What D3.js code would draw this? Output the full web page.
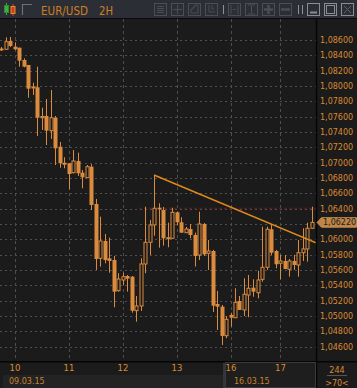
<!DOCTYPE html>
<html><head><meta charset="utf-8">
<script src="https://cdn.jsdelivr.net/npm/d3@7"></script>
<style>html,body{margin:0;padding:0;background:#1b1b1b;overflow:hidden}svg{display:block}</style>
</head><body><svg id="c" width="357" height="388"></svg>
<script>
// ---- data ----
const title = "EUR/USD", period = "2H";
const opens = [1.08476,1.08479,1.08587,1.08513,1.08500,1.08339,1.08274,1.07974,1.07983,1.07586,
1.07609,1.07417,1.07586,1.07208,1.06986,1.06992,1.06869,1.07022,1.06869,1.06804,
1.06947,1.06461,1.05752,1.05978,1.05752,1.05730,1.05330,1.05469,1.05521,1.05512,
1.05069,1.05130,1.05678,1.05961,1.06187,1.06412,1.06382,1.06013,1.06013,1.06352,
1.06222,1.06086,1.06134,1.06056,1.05795,1.06200,1.05817,1.05847,1.05156,1.05121,
1.04742,1.05013,1.04977,1.05195,1.05078,1.05273,1.05369,1.05303,1.05478,1.05635,
1.06131,1.05847,1.05687,1.05717,1.05609,1.05717,1.05665,1.05825,1.05874,1.06144];
const highs = [1.08509,1.08635,1.08639,1.08570,1.08500,1.08361,1.08274,1.08043,1.08252,1.07717,
1.07830,1.07948,1.07609,1.07269,1.07070,1.06992,1.07165,1.07130,1.06904,1.06969,
1.06979,1.06526,1.06295,1.06069,1.06021,1.05782,1.05557,1.05564,1.05534,1.05521,
1.05260,1.05752,1.06425,1.06252,1.06839,1.06470,1.06422,1.06217,1.06412,1.06360,
1.06287,1.06161,1.06200,1.06086,1.06360,1.06213,1.05991,1.05861,1.05326,1.05143,
1.04999,1.05042,1.05361,1.05260,1.05491,1.05534,1.05478,1.05590,1.06164,1.06164,
1.06196,1.05861,1.05795,1.05795,1.05743,1.05795,1.05991,1.06144,1.06217,1.06425];
const lows = [1.08457,1.08476,1.08509,1.08470,1.08252,1.08244,1.07847,1.07883,1.07348,1.07426,
1.07230,1.07309,1.06969,1.06934,1.06926,1.06652,1.06861,1.06826,1.06665,1.06800,
1.06382,1.05600,1.05643,1.05687,1.05564,1.05113,1.05317,1.05404,1.05317,1.05042,
1.04925,1.05065,1.05557,1.05795,1.06047,1.05891,1.05917,1.05896,1.06008,1.06187,
1.06086,1.06082,1.06013,1.05643,1.05730,1.05782,1.05600,1.05052,1.04817,1.04621,
1.04709,1.04860,1.04973,1.05078,1.04999,1.04983,1.05251,1.05230,1.05447,1.05600,
1.05795,1.05622,1.05478,1.05609,1.05512,1.05600,1.05512,1.05717,1.05708,1.06134];
const closes = [1.08483,1.08578,1.08522,1.08479,1.08330,1.08252,1.07965,1.07987,1.07586,1.07602,
1.07417,1.07586,1.07187,1.06992,1.06992,1.06852,1.07022,1.06861,1.06809,1.06947,
1.06448,1.05743,1.05978,1.05730,1.05717,1.05317,1.05482,1.05512,1.05486,1.05069,
1.05130,1.05678,1.05961,1.06187,1.06405,1.06391,1.06013,1.06021,1.06352,1.06222,
1.06086,1.06134,1.06056,1.05782,1.06200,1.05804,1.05847,1.05134,1.05121,1.04739,
1.04956,1.04977,1.05178,1.05078,1.05283,1.05361,1.05317,1.05469,1.05635,1.06131,
1.05825,1.05674,1.05717,1.05613,1.05717,1.05665,1.05825,1.05874,1.06144,1.06220];
const dayIndex = [3, 15, 27, 39, 51, 62];
const dayLabels = ["10", "11", "12", "13", "16", "17"];
const weekIndex = [0, 51];
const weekLabels = ["09.03.15", "16.03.15"];
const priceTicks = [1.086,1.084,1.082,1.080,1.078,1.076,1.074,1.072,1.070,1.068,1.066,1.064,1.062,1.060,1.058,1.056,1.054,1.052,1.050,1.048,1.046];
const lastPrice = 1.06220;
const alertPrice = 1.06405, alertFromIndex = 31;
const trendIdx = [34, 70], trendPrice = [1.06839, 1.05954];
const barCount = "244", visibleBars = ">70<";

// ---- styles ----
const ORANGE = "#dc8a33", CANDLE = "#da8b3e", BG = "#1b1b1b";
const svg = d3.select("#c");
const plotL = 0, plotR = 316, plotT = 19, plotB = 361;

const x = d3.scaleLinear().domain([0, 69]).range([1, 311.5]);
const y = d3.scaleLinear().domain([1.046, 1.086]).range([346.6, 40]);
const fmt = v => d3.format(".5f")(v).replace(".", ",");

svg.append("rect").attr("width", 357).attr("height", 388).attr("fill", BG);

// ---- top bar ----
const topBar = svg.append("g");
topBar.append("rect").attr("width", 357).attr("height", 18).attr("fill", "#2b2e35");
topBar.append("line").attr("x1", 0).attr("x2", 357).attr("y1", 18.5).attr("y2", 18.5).attr("stroke", "#0a0a0a");
topBar.append("line").attr("x1", 6.5).attr("x2", 6.5).attr("y1", 3).attr("y2", 15).attr("stroke", "#3fae3f");
topBar.append("rect").attr("x", 4.5).attr("y", 5.5).attr("width", 4).attr("height", 7).attr("fill", "#3fae3f").attr("stroke", "#2e8a2e");
topBar.append("line").attr("x1", 13).attr("x2", 13).attr("y1", 4).attr("y2", 16).attr("stroke", "#d2552a");
topBar.append("rect").attr("x", 11).attr("y", 6.5).attr("width", 4).attr("height", 7).attr("fill", "#d83a20").attr("stroke", "#e0902a");
topBar.append("path").attr("d", "M22.5,15V4.5H32").attr("fill", "none").attr("stroke", "#6c6f75").attr("stroke-width", 1.2);
topBar.append("text").attr("x", 41).attr("y", 15).text(title)
  .attr("fill", "#cc7e24").attr("font-family", "DejaVu Sans, sans-serif").attr("font-size", 12)
  .attr("textLength", 47).attr("lengthAdjust", "spacingAndGlyphs");
topBar.append("text").attr("x", 99).attr("y", 15).text(period)
  .attr("fill", "#cc7e24").attr("font-family", "DejaVu Sans, sans-serif").attr("font-size", 12)
  .attr("textLength", 14).attr("lengthAdjust", "spacingAndGlyphs");
const btnX = [154, 171, 188, 205, 228, 245, 262, 279];
btnX.forEach((bx, k) => {
  const g = topBar.append("g").attr("stroke", "#4b4e55").attr("fill", "none");
  g.append("rect").attr("x", bx + 0.5).attr("y", 3.5).attr("width", 12).attr("height", 12);
  if (k === 0) [6.5, 8.5, 10.5, 12.5].forEach(yy => g.append("line").attr("x1", bx + 3).attr("x2", bx + 10).attr("y1", yy).attr("y2", yy));
  if (k === 1) { g.append("line").attr("x1", bx + 6.5).attr("x2", bx + 6.5).attr("y1", 5).attr("y2", 14); g.append("line").attr("x1", bx + 2).attr("x2", bx + 11).attr("y1", 9.5).attr("y2", 9.5); }
  if (k === 2) g.append("path").attr("d", `M${bx+3},13V9H${bx+5}V7H${bx+7}V5H${bx+10}V13Z`);
  if (k === 3) g.append("path").attr("d", `M${bx+4},5V12H${bx+10}M${bx+7},5V9H${bx+9}`);
  if (k === 4) g.append("path").attr("d", `M${bx+3},5V14M${bx+10},5V14M${bx+5},9.5H${bx+8}`);
  if (k === 5) g.append("path").attr("d", `M${bx+3},5H${bx+10}M${bx+3},14H${bx+10}M${bx+6.5},6V13`);
  if (k === 6) g.append("path").attr("d", `M${bx+6.5},5V14M${bx+2},9.5H${bx+11}`).attr("stroke-width", 2.5);
  if (k === 7) g.append("path").attr("d", `M${bx+2},9.5H${bx+11}`).attr("stroke-width", 2.5);
});
[223.5, 298.5, 302.5].forEach(sx => topBar.append("line").attr("x1", sx).attr("x2", sx).attr("y1", 5).attr("y2", 14).attr("stroke", "#8d9096"));
[307, 324, 341].forEach((bx, k) => {
  const g = topBar.append("g").attr("stroke", "#8a8d93").attr("fill", "none");
  g.append("rect").attr("x", bx + 0.5).attr("y", 3.5).attr("width", 12).attr("height", 12);
  if (k === 0) g.append("line").attr("x1", bx + 3).attr("x2", bx + 10).attr("y1", 12.5).attr("y2", 12.5).attr("stroke-width", 2);
  if (k === 1) g.append("rect").attr("x", bx + 2.5).attr("y", 5.5).attr("width", 8).attr("height", 8);
  if (k === 2) g.append("path").attr("d", `M${bx+3},6L${bx+10},13M${bx+10},6L${bx+3},13`).attr("stroke", "#5c5f65");
});

// ---- plot ----
svg.append("clipPath").attr("id", "pc").append("rect").attr("x", plotL).attr("y", plotT).attr("width", plotR - plotL).attr("height", plotB - plotT);
const plot = svg.append("g").attr("clip-path", "url(#pc)");
plot.selectAll(".hg").data(priceTicks).join("line")
  .attr("x1", plotL).attr("x2", plotR).attr("y1", d => Math.round(y(d)) + 0.5).attr("y2", d => Math.round(y(d)) + 0.5)
  .attr("stroke", "#4e4e4e").attr("stroke-dasharray", "2,3");
plot.selectAll(".vg").data(dayIndex).join("line")
  .attr("x1", d => Math.round(x(d)) + 0.5).attr("x2", d => Math.round(x(d)) + 0.5).attr("y1", plotT).attr("y2", plotB)
  .attr("stroke", "#4e4e4e").attr("stroke-dasharray", "3,3");
plot.append("line").attr("x1", x(alertFromIndex) - 1.5).attr("x2", plotR).attr("y1", y(alertPrice)).attr("y2", y(alertPrice))
  .attr("stroke", "#6e1b1b").attr("stroke-width", 1.2).attr("stroke-dasharray", "3,2");

const data = opens.map((o, i) => ({ i, o, h: highs[i], l: lows[i], c: closes[i] }));
const cg = plot.append("g");
cg.selectAll(".wick").data(data).join("line")
  .attr("x1", d => Math.round(x(d.i)) + 0.5).attr("x2", d => Math.round(x(d.i)) + 0.5)
  .attr("y1", d => y(d.h)).attr("y2", d => y(d.l)).attr("stroke", CANDLE).attr("stroke-width", 1);
cg.selectAll(".body").data(data).join("rect")
  .attr("x", d => d.c >= d.o ? Math.round(x(d.i)) - 1 : Math.round(x(d.i)) - 1.5)
  .attr("width", d => d.c >= d.o ? 3 : 4)
  .attr("y", d => y(Math.max(d.o, d.c)))
  .attr("height", d => Math.max(1, Math.abs(y(d.o) - y(d.c))))
  .attr("fill", d => d.c >= d.o ? BG : CANDLE)
  .attr("stroke", d => d.c >= d.o ? CANDLE : "none").attr("stroke-width", 1);
plot.append("line").attr("x1", x(trendIdx[0])).attr("y1", y(trendPrice[0])).attr("x2", x(trendIdx[1])).attr("y2", y(trendPrice[1]))
  .attr("stroke", "#e0891c").attr("stroke-width", 1.5);

// ---- borders ----
svg.append("line").attr("x1", 316.5).attr("x2", 316.5).attr("y1", 19).attr("y2", 388).attr("stroke", "#050505").attr("stroke-width", 1.5);
svg.append("line").attr("x1", 0).attr("x2", 357).attr("y1", 361.8).attr("y2", 361.8).attr("stroke", "#050505").attr("stroke-width", 1.5);

// ---- right axis (the tick hidden behind the price tag is not labelled) ----
const ty = y(lastPrice);
const shownTicks = priceTicks.filter(t => Math.abs(y(t) - ty) > 9);
const ya = svg.append("g").attr("transform", "translate(318,0)").call(d3.axisRight(y).tickValues(shownTicks).tickFormat(fmt).tickSize(0).tickPadding(2));
ya.select(".domain").remove();
ya.selectAll("text").attr("fill", ORANGE).attr("font-family", "DejaVu Sans, sans-serif").attr("font-size", 8);
svg.append("path").attr("d", `M317,${ty}L321.5,${ty-4.8}H356.5V${ty+4.8}H321.5Z`).attr("fill", "#bd8547").attr("stroke", "#d99c5c").attr("stroke-width", 0.8);
svg.append("text").attr("x", 323).attr("y", ty + 3).text(fmt(lastPrice))
  .attr("fill", "#1c1c1c").attr("font-family", "DejaVu Sans, sans-serif").attr("font-size", 8);

// ---- bottom axis ----
svg.append("rect").attr("x", 3).attr("y", 375).attr("width", 220).attr("height", 13).attr("fill", "#232323");
svg.append("rect").attr("x", 223).attr("y", 363).attr("width", 2).attr("height", 25).attr("fill", "#353535");
svg.append("rect").attr("x", 225.5).attr("y", 362.5).attr("width", 90).attr("height", 25).attr("fill", "#1e1e1e").attr("stroke", "#3a3a3a");
const xa = svg.append("g").attr("transform", "translate(0,362)").call(d3.axisBottom(x).tickValues(dayIndex).tickFormat((d, k) => dayLabels[k]).tickSize(0).tickPadding(3));
xa.select(".domain").remove();
xa.selectAll("text").attr("fill", ORANGE).attr("font-family", "DejaVu Sans, sans-serif").attr("font-size", 8.5);
svg.selectAll(".wk").data(weekIndex).join("text")
  .attr("x", (d, k) => x(d) + (k === 0 ? 8 : 3.5)).attr("y", 384).text((d, k) => weekLabels[k])
  .attr("fill", "#c9812f").attr("font-family", "DejaVu Sans, sans-serif").attr("font-size", 8);
svg.append("text").attr("x", 337).attr("y", 373).attr("text-anchor", "middle").text(barCount)
  .attr("fill", ORANGE).attr("font-family", "DejaVu Sans, sans-serif").attr("font-size", 8);
svg.append("line").attr("x1", 327).attr("x2", 347).attr("y1", 375.5).attr("y2", 375.5).attr("stroke", "#555");
svg.append("text").attr("x", 337).attr("y", 386).attr("text-anchor", "middle").text(visibleBars)
  .attr("fill", ORANGE).attr("font-family", "DejaVu Sans, sans-serif").attr("font-size", 8);
</script></body></html>
